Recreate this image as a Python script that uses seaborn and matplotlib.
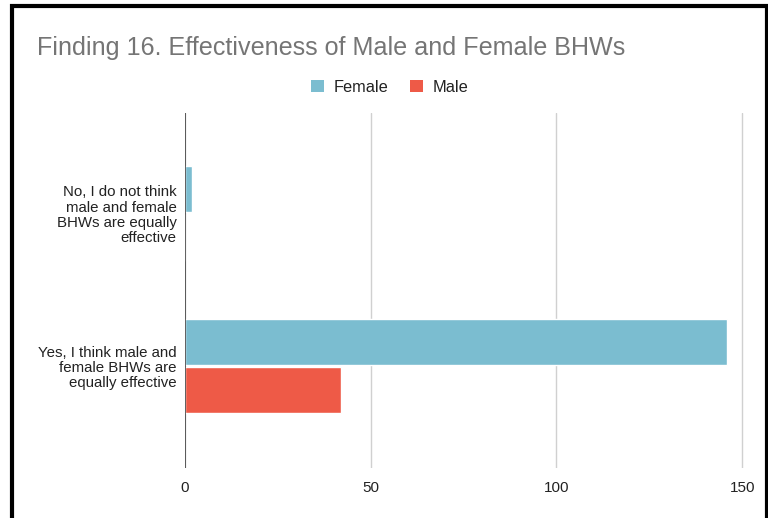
import matplotlib
matplotlib.use("Agg")
import matplotlib.pyplot as plt
from matplotlib.patches import Patch, Rectangle
import seaborn as sns
import pandas as pd

# Survey responses
categories = [
    "No, I do not think\nmale and female\nBHWs are equally\neffective",
    "Yes, I think male and\nfemale BHWs are\nequally effective",
]
groups = ["Female", "Male"]
female_counts = [2, 146]
male_counts = [0, 42]
x_ticks = [0, 50, 100, 150]
title = "Finding 16. Effectiveness of Male and Female BHWs"

colors = {"Female": "#7bbdd0", "Male": "#ee5a47"}

df = pd.DataFrame({
    "response": categories * 2,
    "group": ["Female"] * len(categories) + ["Male"] * len(categories),
    "count": female_counts + male_counts,
})

sns.set_theme(style="white")
plt.rcParams["font.family"] = ["Liberation Sans", "DejaVu Sans"]

W, H = 768, 518
fig = plt.figure(figsize=(W / 100, H / 100), dpi=100)
fig.patch.set_facecolor("white")

left, right, top, bottom = 185, 744, 113, 468
ax = fig.add_axes([left / W, 1 - bottom / H, (right - left) / W, (bottom - top) / H])

sns.barplot(
    data=df, y="response", x="count", hue="group", hue_order=groups,
    palette=colors, orient="h", width=0.64, gap=0.06, saturation=1,
    legend=False, ax=ax,
)

ax.set_xlim(0, 150.5)
ax.set_ylim(1.667, -0.654)
ax.set_xticks(x_ticks)
ax.set_xticklabels([str(t) for t in x_ticks])
ax.set_xlabel("")
ax.set_ylabel("")
ax.xaxis.grid(True, color="#d0d0d0", linewidth=1)
ax.yaxis.grid(False)
ax.set_axisbelow(True)
ax.axvline(0, color="#444444", linewidth=1.2, zorder=5)
for s in ax.spines.values():
    s.set_visible(False)
ax.tick_params(axis="x", length=0, pad=9, labelsize=11, labelcolor="#222222")
ax.tick_params(axis="y", length=0, pad=6, labelsize=10.8, labelcolor="#222222")
for lbl in ax.get_yticklabels():
    lbl.set_horizontalalignment("right")
    lbl.set_multialignment("right")
    lbl.set_linespacing(1.12)

# Title and legend
fig.text(37 / W, 1 - 48 / H, title, color="#757575", fontsize=18.1, va="center", ha="left")
handles = [Patch(facecolor=colors[g], edgecolor="none", label=g) for g in groups]
fig.legend(
    handles=handles, loc="center", bbox_to_anchor=(390 / W, 1 - 87 / H),
    ncol=2, frameon=False, fontsize=11.8, handlelength=0.78, handleheight=0.78,
    handletextpad=0.6, columnspacing=1.3, labelcolor="#222222",
)

# Outer frame
fig.patches.append(Rectangle(
    (11.5 / W, -0.05), (766.5 - 11.5) / W, 1.05 - 6.5 / H,
    transform=fig.transFigure, fill=False, edgecolor="black", linewidth=3,
))

fig.savefig("out.png", dpi=100)
